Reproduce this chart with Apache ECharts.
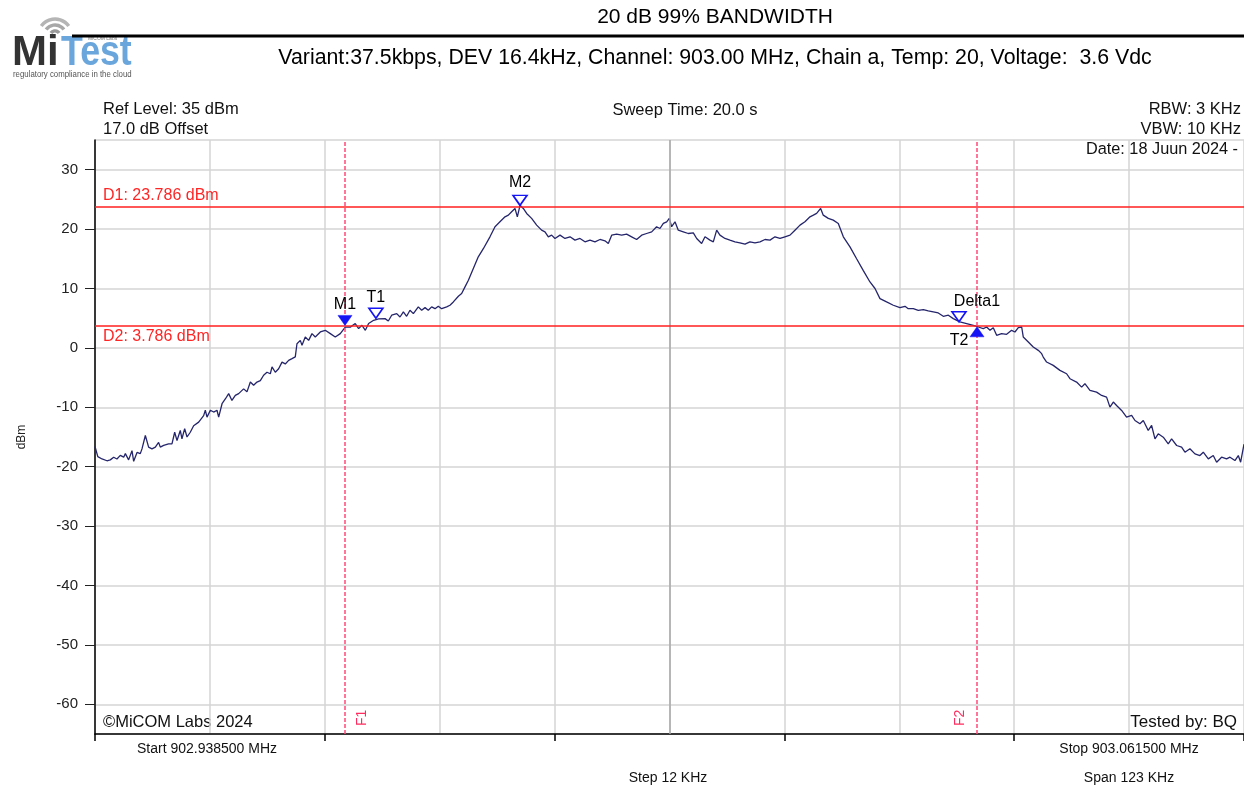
<!DOCTYPE html>
<html><head><meta charset="utf-8">
<script src="https://cdn.jsdelivr.net/npm/echarts@6/dist/echarts.min.js"></script>
<style>html,body{margin:0;padding:0;background:#fff}#c{width:1244px;height:788px}</style>
</head><body><div id="c"></div>
<script>
// ---- data (frequency offset from start, kHz; level dBm) ----
const startMHz = 902.9385;
const stopMHz = 903.0615;
const spanKHz = 123;
const stepKHz = 12.3;
const freqKHz = [0.0,0.3,0.75,1.28,1.64,2.0,2.35,2.71,3.07,3.25,3.6,3.96,4.14,4.5,4.85,5.03,5.39,5.74,6.1,6.46,6.81,6.99,7.35,7.88,8.24,8.53,8.78,9.13,9.31,9.6,9.85,10.2,10.56,11.1,11.63,11.81,11.99,12.35,12.7,13.06,13.24,13.6,13.95,14.31,14.66,15.02,15.38,15.91,16.27,16.63,16.98,17.34,17.7,18.05,18.41,18.77,18.95,19.3,19.66,20.02,20.37,20.73,21.09,21.44,21.62,21.98,22.16,22.51,22.87,23.23,23.58,24.12,24.65,25.19,25.72,26.26,26.79,27.33,27.86,28.22,28.58,28.94,29.29,29.83,30.36,31.05,31.4,31.76,32.3,32.65,33.01,33.36,33.72,34.08,34.61,34.97,35.33,35.68,36.04,36.4,36.75,37.11,37.65,38.0,38.36,38.9,39.25,39.61,39.97,40.5,41.03,41.57,42.28,42.82,43.35,43.89,44.25,44.6,44.78,44.96,45.21,45.5,45.85,46.21,46.74,47.28,47.81,48.17,48.53,48.88,49.24,49.78,50.31,50.85,51.38,51.92,52.45,52.99,53.52,54.06,54.59,54.95,55.31,55.84,56.38,56.91,57.45,57.98,58.52,59.05,59.59,60.12,60.48,60.84,61.2,61.48,61.73,62.09,62.44,62.98,63.51,64.05,64.41,64.94,65.3,65.83,66.19,66.55,66.9,67.44,67.97,68.51,69.04,69.58,70.11,70.65,71.19,71.72,72.26,72.79,73.33,73.86,74.4,74.93,75.47,76.0,76.54,76.9,77.25,77.68,77.96,78.5,79.03,79.57,80.11,80.82,81.53,82.25,82.96,83.5,83.67,84.03,84.74,85.46,86.17,86.71,87.06,87.6,88.13,88.67,89.2,89.74,90.27,90.81,91.35,91.88,92.59,93.31,94.02,94.56,95.09,95.45,95.81,96.16,96.52,97.05,97.59,98.12,98.48,98.84,99.2,99.37,99.91,100.44,100.98,101.34,101.51,101.87,102.58,103.3,104.01,104.37,105.08,105.62,105.97,106.51,107.22,107.76,108.29,108.65,109.01,109.36,109.9,110.43,110.97,111.33,111.86,112.22,112.75,113.11,113.47,113.82,114.36,114.89,115.25,115.79,116.32,116.68,117.21,117.75,118.28,118.64,119.18,119.71,120.07,120.6,121.14,121.5,122.03,122.39,122.64,123.0];
const levelDbm = [-16.6,-18.3,-18.7,-19.0,-18.85,-18.4,-18.7,-18.1,-18.4,-17.8,-18.85,-17.3,-19.1,-17.6,-17.8,-17.0,-14.75,-16.7,-17.0,-16.7,-15.9,-16.7,-16.4,-16.15,-16.15,-14.2,-15.6,-13.9,-15.3,-13.6,-15.0,-14.2,-13.1,-12.5,-11.4,-10.5,-11.65,-10.5,-10.8,-10.5,-11.65,-9.4,-8.6,-7.7,-8.85,-8.0,-7.7,-6.9,-7.4,-5.75,-6.3,-5.75,-5.5,-4.6,-4.1,-4.35,-3.2,-4.1,-3.5,-2.4,-2.7,-2.1,-1.8,-1.5,0.7,1.27,0.43,1.84,1.27,2.4,1.84,2.68,2.96,2.4,1.84,2.4,3.5,3.5,4.1,3.24,3.8,2.96,4.1,4.65,4.9,4.93,4.53,5.5,5.77,5.2,6.05,5.32,6.33,5.77,6.9,6.33,6.78,6.33,6.9,6.6,7.0,6.6,6.9,7.18,7.74,8.7,9.15,10.27,11.4,13.36,15.33,16.7,18.7,20.4,21.23,22.07,22.35,22.92,22.64,23.48,22.07,24.0,23.48,22.64,21.8,20.67,19.82,19.54,18.7,18.98,18.42,18.98,18.42,18.7,18.14,18.42,17.86,18.14,17.86,18.25,18.03,17.58,18.98,19.15,18.98,19.15,18.7,18.25,18.98,19.26,19.54,20.4,20.1,20.95,21.23,21.8,20.4,21.23,19.82,19.54,19.26,19.37,18.42,17.58,18.7,18.14,17.86,19.82,18.98,18.42,18.14,17.86,17.69,17.46,17.86,17.69,17.86,18.25,18.14,18.7,18.42,18.7,18.98,19.82,20.67,21.23,22.07,22.35,22.64,23.48,22.35,21.8,21.51,20.95,18.7,17.0,15.0,13.0,11.1,10.0,9.71,8.3,7.74,7.18,6.78,7.0,6.6,6.6,6.33,6.45,6.22,6.05,5.88,5.32,5.5,4.93,4.37,4.09,3.8,3.52,3.24,3.52,2.96,3.41,2.12,2.4,2.29,2.96,2.68,3.41,3.52,1.84,1.0,0.15,-0.41,-0.97,-1.54,-2.38,-2.94,-3.78,-4.35,-5.19,-5.75,-6.6,-6.03,-7.16,-7.44,-8.0,-8.28,-9.97,-9.12,-9.69,-10.53,-11.65,-11.37,-12.22,-12.78,-12.22,-13.9,-13.06,-15.31,-14.46,-15.03,-16.15,-15.31,-16.43,-16.71,-17.56,-16.99,-17.84,-18.12,-17.56,-18.68,-18.12,-19.24,-18.4,-18.68,-18.4,-18.96,-18.12,-19.24,-16.2];
// markers
const markerNames = ['M1','T1','M2','Delta1','T2'];
const markerKHz = [26.76, 30.07, 45.5, 92.49, 94.42];
const markerDbm = [3.786, 5.0, 24.0, 4.4, 3.55];
const markerFilled = [true, false, false, false, true];
const markerDown = [true, true, true, true, false];
// display lines
const dLineNames = ['D1','D2'];
const dLineDbm = [23.786, 3.786];
const fLineNames = ['F1','F2'];
const fLineKHz = [26.76, 94.42];
const yMin = -65, yMax = 35;

const FONT = "'Liberation Sans', Arial, Helvetica, sans-serif";
const chart = echarts.init(document.getElementById('c'), null, {renderer:'canvas'});

function txt(text, x, y, size, align, color, extra) {
  return Object.assign({type:'text', x:x, y:y, silent:true, style:{text:text, x:0, y:0, fill:color||'#111',
    font:'normal '+size+'px '+FONT, textAlign:align||'left', textVerticalAlign:'middle'}}, extra||{});
}

const labelOffsets = [[0,-13],[0,-13],[0,-15],[18,-12],[-18,22]];
const markerBlue = '#1414f5';

const graphic = [
  // logo
  {type:'arc', silent:true, shape:{cx:55, cy:36, r:5, startAngle:Math.PI*1.2, endAngle:Math.PI*1.8}, style:{stroke:'#9a9a9a', lineWidth:3.5, fill:null}},
  {type:'arc', silent:true, shape:{cx:55, cy:36, r:11, startAngle:Math.PI*1.2, endAngle:Math.PI*1.8}, style:{stroke:'#a8a8a8', lineWidth:3.5, fill:null}},
  {type:'arc', silent:true, shape:{cx:55, cy:36, r:17, startAngle:Math.PI*1.2, endAngle:Math.PI*1.8}, style:{stroke:'#b5b5b5', lineWidth:3.5, fill:null}},
  {type:'text', x:12, y:74, silent:true, style:{text:'Mi', x:0, y:0, fill:'#333333', font:'bold 42px '+FONT, textVerticalAlign:'bottom'}},
  {type:'text', x:61, y:74, scaleX:0.85, silent:true, style:{text:'Test', x:0, y:0, fill:'#6aa6dc', font:'bold 42px '+FONT, textVerticalAlign:'bottom'}},
  {type:'text', x:88, y:39, silent:true, style:{text:'MiCOM Labs', x:0, y:0, fill:'#777', font:'normal 5px '+FONT, textVerticalAlign:'middle'}},
  {type:'text', x:13, y:75, scaleX:0.92, silent:true, style:{text:'regulatory compliance in the cloud', x:0, y:0, fill:'#555', font:'normal 8.5px '+FONT, textVerticalAlign:'middle'}},
  // header rule
  {type:'line', silent:true, shape:{x1:72, y1:36, x2:1244, y2:36}, style:{stroke:'#000', lineWidth:3}},
  txt('20 dB 99% BANDWIDTH', 715, 17, 21, 'center', '#000'),
  txt('Variant:37.5kbps, DEV 16.4kHz, Channel: 903.00 MHz, Chain a, Temp: 20, Voltage:  3.6 Vdc', 715, 58, 21.3, 'center', '#000'),
  txt('Ref Level: 35 dBm', 103, 109, 16.5, 'left'),
  txt('17.0 dB Offset', 103, 129, 16.5, 'left'),
  txt('Sweep Time: 20.0 s', 685, 110, 16.5, 'center'),
  txt('RBW: 3 KHz', 1241, 109, 16.5, 'right'),
  txt('VBW: 10 KHz', 1241, 129, 16.5, 'right'),
  txt('Date: 18 Juun 2024 -', 1238, 150, 16.3, 'right'),
  txt('\u00A9MiCOM Labs 2024', 103, 722, 16.5, 'left'),
  txt('Tested by: BQ', 1237, 722, 17, 'right'),
  txt('Start ' + startMHz.toFixed(6) + ' MHz', 207, 749, 14, 'center'),
  txt('Stop ' + stopMHz.toFixed(6) + ' MHz', 1129, 749, 14, 'center'),
  txt('Step 12 KHz', 668, 778, 14, 'center'),
  txt('Span ' + spanKHz + ' KHz', 1129, 778, 14, 'center')
];

const markLineData = [];
dLineNames.forEach((n,i)=>{
  markLineData.push({yAxis:dLineDbm[i], lineStyle:{color:'#ff1f1f', width:1.6, type:'solid'},
    label:{show:true, formatter:n+': '+dLineDbm[i].toFixed(3)+' dBm', position:i===0?'insideStartTop':'insideStartBottom',
      distance:[8,3], color:'#ff2525', fontSize:16, fontFamily:FONT}});
});
fLineNames.forEach((n,i)=>{
  markLineData.push({xAxis:fLineKHz[i], lineStyle:{color:'#ff4a78', width:1.5, type:[4,2]},
    label:{show:true, formatter:n, position:i===0?'insideStartBottom':'insideStartTop',
      distance:[8,10], color:'#ff2d5f', fontSize:14, fontFamily:FONT}});
});
// darker centre graticule
markLineData.unshift({xAxis:spanKHz/2, lineStyle:{color:'#a9a9a9', width:1.5, type:'solid'}, label:{show:false}});

const option = {
  animation:false,
  backgroundColor:'#ffffff',
  textStyle:{fontFamily:FONT},
  grid:{left:95, right:0, top:140, bottom:54, containLabel:false},
  xAxis:[
    {type:'value', min:0, max:spanKHz, interval:stepKHz,
      axisLine:{show:false, onZero:false}, axisTick:{show:false}, axisLabel:{show:false},
      splitLine:{show:true, lineStyle:{color:'#d5d5d5', width:1.5}}},
    {type:'value', min:0, max:spanKHz, interval:stepKHz*2, position:'bottom',
      axisLine:{show:true, onZero:false, lineStyle:{color:'#000', width:1.5}},
      axisTick:{show:true, length:7, lineStyle:{color:'#000', width:1.5}},
      axisLabel:{show:false}, splitLine:{show:false}}
  ],
  yAxis:{type:'value', min:yMin, max:yMax, splitNumber:10,
    name:'dBm', nameLocation:'middle', nameGap:67, nameRotate:90,
    nameTextStyle:{fontSize:12, color:'#222', fontFamily:FONT},
    axisLine:{show:true, onZero:false, lineStyle:{color:'#000', width:1.5}},
    axisTick:{show:true, length:10, lineStyle:{color:'#222', width:1}},
    axisLabel:{showMinLabel:false, showMaxLabel:false, color:'#222', fontSize:15, margin:17, fontFamily:FONT},
    splitLine:{show:true, lineStyle:{color:'#d5d5d5', width:1.5}}},
  graphic:graphic,
  series:[
    {type:'line', xAxisIndex:0, yAxisIndex:0, data:freqKHz.map((f,i)=>[f, levelDbm[i]]),
      symbol:'none', showSymbol:false, lineStyle:{color:'#25256c', width:1.3}, z:3, silent:true,
      markLine:{silent:true, symbol:['none','none'], animation:false, data:markLineData}},
    {type:'scatter', xAxisIndex:0, yAxisIndex:0, z:6, silent:true,
      data:markerNames.map((n,i)=>({value:[markerKHz[i], markerDbm[i]], symbol:'triangle',
        symbolSize:[14,10], symbolRotate:markerDown[i]?180:0, symbolOffset:[0, markerDown[i]?-5:5],
        itemStyle:{opacity:1, color:markerFilled[i]?markerBlue:'#ffffff', borderColor:markerBlue, borderWidth:markerFilled[i]?0.5:1.6}}))},
    {type:'scatter', xAxisIndex:0, yAxisIndex:0, z:7, silent:true, symbolSize:0,
      data:markerNames.map((n,i)=>({value:[markerKHz[i], markerDbm[i]],
        label:{show:true, formatter:n, position:'top', distance:0, offset:labelOffsets[i], color:'#000', opacity:1, fontSize:16, fontFamily:FONT}}))}
  ]
};
chart.setOption(option);
</script></body></html>
